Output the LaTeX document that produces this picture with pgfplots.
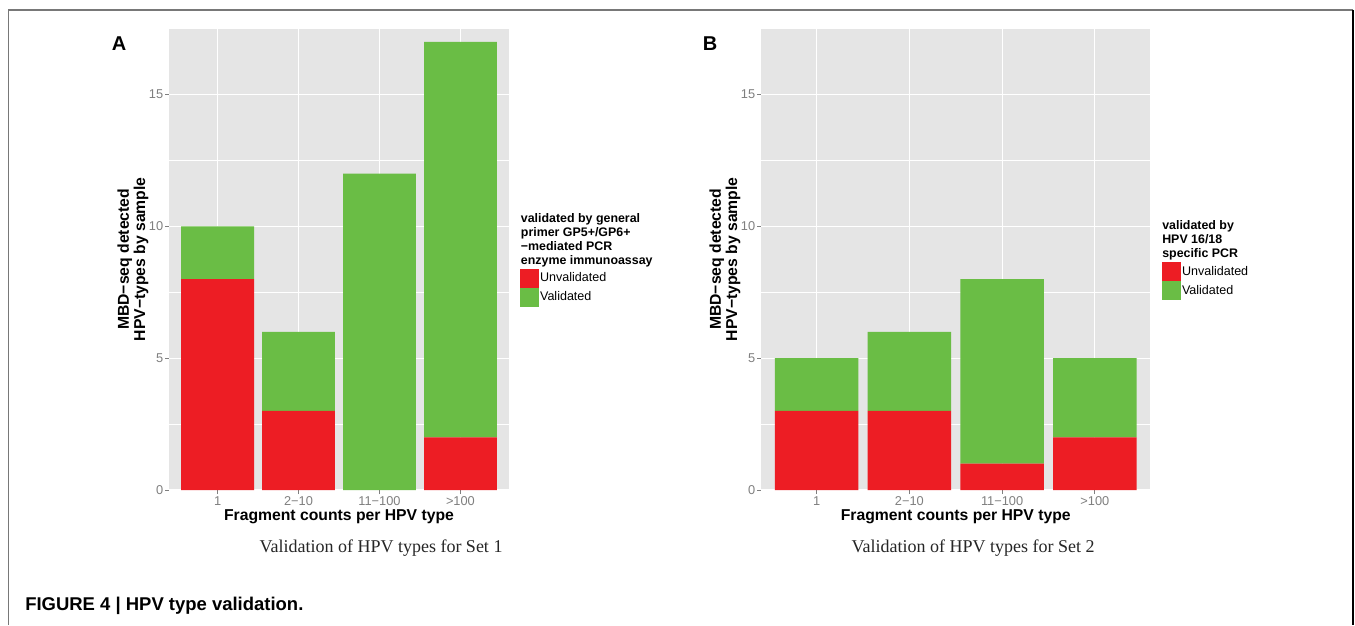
\documentclass[border=0pt]{standalone}
\usepackage{pgfplots}
\pgfplotsset{compat=1.18}
\usepackage{fontspec}
\setmainfont{Liberation Sans}
\newfontfamily\seriffont{Liberation Serif}
\definecolor{ggbg}{RGB}{229,229,229}
\definecolor{ggred}{RGB}{237,29,36}
\definecolor{gggreen}{RGB}{106,189,69}
\definecolor{ticktext}{RGB}{127,127,127}
\definecolor{framegray}{RGB}{120,120,120}

\pgfplotstableread{
x unval val
1 8 2
2 3 3
3 0 12
4 2 15
}\dataA
\pgfplotstableread{
x unval val
1 3 2
2 3 3
3 1 7
4 2 3
}\dataB

\pgfplotsset{ggstyle/.style={
  scale only axis, anchor=south west,
  height=346pt,
  ybar stacked, bar width=0.9,
  ymin=0, ymax=17.5, xmin=0.4, xmax=4.6,
  xtick={1,2,3,4}, xticklabels={1,2−10,11−100,>100},
  ytick={0,5,10,15}, minor ytick={2.5,7.5,12.5},
  grid=both,
  major grid style={white, line width=0.8pt},
  minor grid style={white, line width=0.4pt},
  axis background/.style={fill=ggbg},
  axis line style={draw=none},
  tick pos=left, tick align=outside, major tick length=3pt, minor tick length=0pt,
  tick style={ticktext, line width=0.6pt},
  ticklabel style={font=\fontsize{9.6}{10}\selectfont, text=ticktext},
  yticklabel style={inner sep=1.2pt},
  xticklabel style={inner sep=2pt},
  /pgf/number format/assume math mode=true,
  xlabel={Fragment counts per HPV type},
  ylabel={MBD−seq detected\\HPV−types by sample},
  label style={font=\bfseries\fontsize{11.8}{12.2}\selectfont},
  ylabel style={rotate=0, anchor=center, align=center},
  xlabel style={anchor=center, at={(axis description cs:0.5,-0.059)}},
  legend image code/.code={\fill[##1,draw=none] (0pt,-7.125pt) rectangle (14.25pt,7.125pt);},
  legend style={anchor=north west, draw=none, fill=none, inner sep=0pt, row sep=0pt,
    font=\fontsize{9.4}{10}\selectfont, nodes={inner sep=0.6pt, minimum height=14.25pt}},
  legend cell align=left,
}}

\begin{document}
\begin{tikzpicture}
\useasboundingbox (0,0) rectangle (1016.25pt,468.75pt);
\fill[white] (0,0) rectangle (1016.25pt,468.75pt);
% frame
\draw[framegray, line width=1.2pt] (6.4pt,0) -- (6.4pt,461.25pt) -- (1014.75pt,461.25pt);
\draw[black, line width=1.2pt] (1014.75pt,461.25pt) -- (1014.75pt,0);

\begin{axis}[ggstyle, at={(126.75pt,101.25pt)}, width=255pt,
  ylabel style={at={(axis description cs:-0.1059,0.5)}},
  legend style={at={(axis description cs:1.0324,0.4806)}}]
\addplot[fill=ggred, draw=none] table[x=x, y=unval] {\dataA};
\addplot[fill=gggreen, draw=none] table[x=x, y=val] {\dataA};
\legend{Unvalidated, Validated}
\end{axis}

\begin{axis}[ggstyle, at={(570.75pt,101.25pt)}, width=292.1pt,
  ylabel style={at={(axis description cs:-0.0924,0.5)}},
  legend style={at={(axis description cs:1.0295,0.4943)}}]
\addplot[fill=ggred, draw=none] table[x=x, y=unval] {\dataB};
\addplot[fill=gggreen, draw=none] table[x=x, y=val] {\dataB};
\legend{Unvalidated, Validated}
\end{axis}

% legend titles
\node[anchor=north west, align=left, inner sep=0pt, font=\bfseries\fontsize{9.3}{10.5}\selectfont]
  at (390.5pt,309pt) {validated by general\\primer GP5+/GP6+\\−mediated PCR\\enzyme immunoassay};
\node[anchor=north west, align=left, inner sep=0pt, font=\bfseries\fontsize{9.3}{10.5}\selectfont]
  at (871.5pt,303.75pt) {validated by\\HPV 16/18\\specific PCR};

% panel letters
\node[font=\bfseries\fontsize{15}{15}\selectfont] at (89.25pt,435.75pt) {A};
\node[font=\bfseries\fontsize{15}{15}\selectfont] at (532.5pt,435.75pt) {B};

% captions
\node[font=\seriffont\fontsize{13.5}{14}\selectfont, text=black!85] at (285.75pt,58pt) {Validation of HPV types for Set 1};
\node[font=\seriffont\fontsize{13.5}{14}\selectfont, text=black!85] at (729.75pt,58pt) {Validation of HPV types for Set 2};

\node[anchor=west, inner sep=0pt, font=\bfseries\fontsize{13.85}{14}\selectfont] at (18.75pt,14.25pt) {FIGURE 4 | HPV type validation.};
\end{tikzpicture}
\end{document}
